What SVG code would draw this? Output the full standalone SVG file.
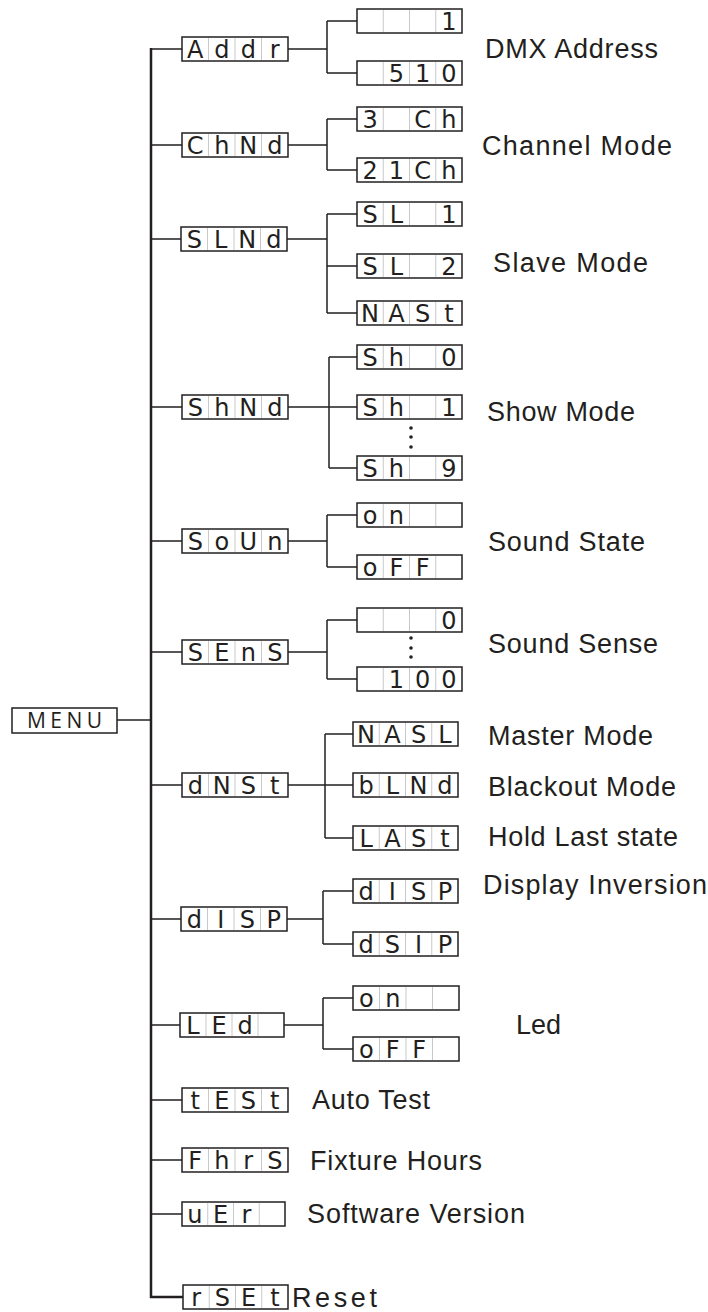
<svg xmlns="http://www.w3.org/2000/svg" width="708" height="1312" viewBox="0 0 708 1312">
<style>
.bg{fill:#ffffff}
.box{fill:#ffffff;stroke:#231f20;stroke-width:1.5}
.div{stroke:#c9c9c9;stroke-width:1}
.seg{font-family:"DejaVu Sans","Liberation Sans",sans-serif;font-size:24px;fill:#231f20;text-anchor:middle}
.lbl{font-family:"Liberation Sans",Arial,sans-serif;font-size:27px;fill:#231f20}
.menu{font-family:"Open Sans","Liberation Sans",sans-serif;font-size:21px;fill:#231f20}
.wire{stroke:#231f20;stroke-width:1.5;fill:none}
.main{stroke:#231f20;stroke-width:2.5;fill:none}
.dot{fill:#231f20}
</style>
<rect class="bg" x="0" y="0" width="708" height="1312"/>

<g id="connectors">
  <path class="main" d="M151 48 V1297 H183"/>
  <path class="wire" d="M117 720 H151"/>
  <path class="wire" d="M151 49 H182 M151 145 H182 M151 239 H181 M151 407 H182 M151 541 H182 M151 652 H182 M151 785 H182 M151 919 H181 M151 1025 H180 M151 1100 H182 M151 1160 H182 M151 1214 H182"/>
  <path class="wire" d="M288 49 H327 M327 21 V73 M327 21 H357 M327 73 H357"/>
  <path class="wire" d="M288 145 H327 M327 119 V170 M327 119 H357 M327 170 H357"/>
  <path class="wire" d="M287 239 H327 M327 214 V313 M327 214 H357 M327 266 H357 M327 313 H357"/>
  <path class="wire" d="M288 407 H329 M329 357 V468 M329 357 H357 M329 407 H357 M329 468 H357"/>
  <path class="wire" d="M288 541 H327 M327 515 V567 M327 515 H357 M327 567 H357"/>
  <path class="wire" d="M288 652 H327 M327 620 V679 M327 620 H357 M327 679 H357"/>
  <path class="wire" d="M288 785 H325 M325 734 V838 M325 734 H353 M325 785 H353 M325 838 H353"/>
  <path class="wire" d="M287 919 H323 M323 891 V944 M323 891 H353 M323 944 H353"/>
  <path class="wire" d="M284 1025 H323 M323 998 V1049 M323 998 H353 M323 1049 H353"/>
  <circle class="dot" cx="411" cy="428" r="1.8"/><circle class="dot" cx="411" cy="437" r="1.8"/><circle class="dot" cx="411" cy="447" r="1.8"/>
  <circle class="dot" cx="411" cy="638" r="1.8"/><circle class="dot" cx="411" cy="648" r="1.8"/><circle class="dot" cx="411" cy="657" r="1.8"/>
</g>

<g id="menu">
  <rect class="box" x="12" y="708" width="105" height="25"/>
  <text class="menu" x="27" y="728" textLength="75" lengthAdjust="spacing">MENU</text>
</g>

<g id="addr">
  <rect class="box" x="182" y="37" width="106" height="24"/>
  <path class="div" d="M208.5 38V60M235 38V60M261.5 38V60"/>
  <text class="seg" x="195.25 221.75 248.25 274.75" y="58">Addr</text>
</g>
<g id="addr-1">
  <rect class="box" x="357" y="9" width="105" height="24"/>
  <path class="div" d="M383.25 10V32M409.5 10V32M435.75 10V32"/>
  <text class="seg" x="448.9" y="30">1</text>
</g>
<g id="addr-510">
  <rect class="box" x="357" y="61" width="105" height="24"/>
  <path class="div" d="M383.25 62V84M409.5 62V84M435.75 62V84"/>
  <text class="seg" x="396.4 422.6 448.9" y="82">510</text>
</g>
<text class="lbl" x="485" y="58" textLength="173" lengthAdjust="spacing">DMX Address</text>

<g id="chnd">
  <rect class="box" x="182" y="133" width="106" height="24"/>
  <path class="div" d="M208.5 134V156M235 134V156M261.5 134V156"/>
  <text class="seg" x="195.25 221.75 248.25 274.75" y="154">ChNd</text>
</g>
<g id="chnd-3ch">
  <rect class="box" x="357" y="107" width="105" height="24"/>
  <path class="div" d="M383.25 108V130M409.5 108V130M435.75 108V130"/>
  <text class="seg" x="370.1 422.6 448.9" y="128">3Ch</text>
</g>
<g id="chnd-21ch">
  <rect class="box" x="357" y="158" width="105" height="24"/>
  <path class="div" d="M383.25 159V181M409.5 159V181M435.75 159V181"/>
  <text class="seg" x="370.1 396.4 422.6 448.9" y="179">21Ch</text>
</g>
<text class="lbl" x="482" y="155" textLength="190" lengthAdjust="spacing">Channel Mode</text>

<g id="slnd">
  <rect class="box" x="181" y="227" width="106" height="24"/>
  <path class="div" d="M207.5 228V250M234 228V250M260.5 228V250"/>
  <text class="seg" x="194.25 220.75 247.25 273.75" y="248">SLNd</text>
</g>
<g id="slnd-sl1">
  <rect class="box" x="357" y="202" width="105" height="24"/>
  <path class="div" d="M383.25 203V225M409.5 203V225M435.75 203V225"/>
  <text class="seg" x="370.1 396.4 448.9" y="223">SL1</text>
</g>
<g id="slnd-sl2">
  <rect class="box" x="357" y="254" width="105" height="24"/>
  <path class="div" d="M383.25 255V277M409.5 255V277M435.75 255V277"/>
  <text class="seg" x="370.1 396.4 448.9" y="275">SL2</text>
</g>
<g id="slnd-nast">
  <rect class="box" x="357" y="301" width="105" height="24"/>
  <path class="div" d="M383.25 302V324M409.5 302V324M435.75 302V324"/>
  <text class="seg" x="370.1 396.4 422.6 448.9" y="322">NASt</text>
</g>
<text class="lbl" x="493" y="272" textLength="155" lengthAdjust="spacing">Slave Mode</text>

<g id="shnd">
  <rect class="box" x="182" y="395" width="106" height="24"/>
  <path class="div" d="M208.5 396V418M235 396V418M261.5 396V418"/>
  <text class="seg" x="195.25 221.75 248.25 274.75" y="416">ShNd</text>
</g>
<g id="shnd-sh0">
  <rect class="box" x="357" y="345" width="105" height="24"/>
  <path class="div" d="M383.25 346V368M409.5 346V368M435.75 346V368"/>
  <text class="seg" x="370.1 396.4 448.9" y="366">Sh0</text>
</g>
<g id="shnd-sh1">
  <rect class="box" x="357" y="395" width="105" height="24"/>
  <path class="div" d="M383.25 396V418M409.5 396V418M435.75 396V418"/>
  <text class="seg" x="370.1 396.4 448.9" y="416">Sh1</text>
</g>
<g id="shnd-sh9">
  <rect class="box" x="357" y="456" width="105" height="24"/>
  <path class="div" d="M383.25 457V479M409.5 457V479M435.75 457V479"/>
  <text class="seg" x="370.1 396.4 448.9" y="477">Sh9</text>
</g>
<text class="lbl" x="487" y="421" textLength="148" lengthAdjust="spacing">Show Mode</text>

<g id="soun">
  <rect class="box" x="182" y="529" width="106" height="24"/>
  <path class="div" d="M208.5 530V552M235 530V552M261.5 530V552"/>
  <text class="seg" x="195.25 221.75 248.25 274.75" y="550">SoUn</text>
</g>
<g id="soun-on">
  <rect class="box" x="357" y="503" width="105" height="24"/>
  <path class="div" d="M383.25 504V526M409.5 504V526M435.75 504V526"/>
  <text class="seg" x="370.1 396.4" y="524">on</text>
</g>
<g id="soun-off">
  <rect class="box" x="357" y="555" width="105" height="24"/>
  <path class="div" d="M383.25 556V578M409.5 556V578M435.75 556V578"/>
  <text class="seg" x="370.1 396.4 422.6" y="576">oFF</text>
</g>
<text class="lbl" x="488" y="551" textLength="157" lengthAdjust="spacing">Sound State</text>

<g id="sens">
  <rect class="box" x="182" y="640" width="106" height="24"/>
  <path class="div" d="M208.5 641V663M235 641V663M261.5 641V663"/>
  <text class="seg" x="195.25 221.75 248.25 274.75" y="661">SEnS</text>
</g>
<g id="sens-0">
  <rect class="box" x="357" y="608" width="105" height="24"/>
  <path class="div" d="M383.25 609V631M409.5 609V631M435.75 609V631"/>
  <text class="seg" x="448.9" y="629">0</text>
</g>
<g id="sens-100">
  <rect class="box" x="357" y="667" width="105" height="24"/>
  <path class="div" d="M383.25 668V690M409.5 668V690M435.75 668V690"/>
  <text class="seg" x="396.4 422.6 448.9" y="688">100</text>
</g>
<text class="lbl" x="488" y="653" textLength="170" lengthAdjust="spacing">Sound Sense</text>

<g id="dnst">
  <rect class="box" x="182" y="773" width="106" height="24"/>
  <path class="div" d="M208.5 774V796M235 774V796M261.5 774V796"/>
  <text class="seg" x="195.25 221.75 248.25 274.75" y="794">dNSt</text>
</g>
<g id="dnst-nasl">
  <rect class="box" x="353" y="722" width="105" height="24"/>
  <path class="div" d="M379.25 723V745M405.5 723V745M431.75 723V745"/>
  <text class="seg" x="366.1 392.4 418.6 444.9" y="743">NASL</text>
</g>
<g id="dnst-blnd">
  <rect class="box" x="353" y="773" width="105" height="24"/>
  <path class="div" d="M379.25 774V796M405.5 774V796M431.75 774V796"/>
  <text class="seg" x="366.1 392.4 418.6 444.9" y="794">bLNd</text>
</g>
<g id="dnst-last">
  <rect class="box" x="353" y="826" width="105" height="24"/>
  <path class="div" d="M379.25 827V849M405.5 827V849M431.75 827V849"/>
  <text class="seg" x="366.1 392.4 418.6 444.9" y="847">LASt</text>
</g>
<text class="lbl" x="488" y="745" textLength="165" lengthAdjust="spacing">Master Mode</text>
<text class="lbl" x="488" y="796" textLength="188" lengthAdjust="spacing">Blackout Mode</text>
<text class="lbl" x="488" y="846" textLength="190" lengthAdjust="spacing">Hold Last state</text>

<g id="disp">
  <rect class="box" x="181" y="907" width="106" height="24"/>
  <path class="div" d="M207.5 908V930M234 908V930M260.5 908V930"/>
  <text class="seg" x="194.25 220.75 247.25 273.75" y="928">dISP</text>
</g>
<g id="disp-disp">
  <rect class="box" x="353" y="879" width="105" height="24"/>
  <path class="div" d="M379.25 880V902M405.5 880V902M431.75 880V902"/>
  <text class="seg" x="366.1 392.4 418.6 444.9" y="900">dISP</text>
</g>
<g id="disp-dsip">
  <rect class="box" x="353" y="932" width="105" height="24"/>
  <path class="div" d="M379.25 933V955M405.5 933V955M431.75 933V955"/>
  <text class="seg" x="366.1 392.4 418.6 444.9" y="953">dSIP</text>
</g>
<text class="lbl" x="483" y="894" textLength="224" lengthAdjust="spacing">Display Inversion</text>

<g id="led">
  <rect class="box" x="180" y="1013" width="104" height="24"/>
  <path class="div" d="M206 1014V1036M232 1014V1036M258 1014V1036"/>
  <text class="seg" x="193 219 245" y="1034">LEd</text>
</g>
<g id="led-on">
  <rect class="box" x="353" y="986" width="106" height="24"/>
  <path class="div" d="M379.5 987V1009M406 987V1009M432.5 987V1009"/>
  <text class="seg" x="366.25 392.75" y="1007">on</text>
</g>
<g id="led-off">
  <rect class="box" x="353" y="1037" width="106" height="24"/>
  <path class="div" d="M379.5 1038V1060M406 1038V1060M432.5 1038V1060"/>
  <text class="seg" x="366.25 392.75 419.25" y="1058">oFF</text>
</g>
<text class="lbl" x="516" y="1034" textLength="45" lengthAdjust="spacing">Led</text>

<g id="test">
  <rect class="box" x="182" y="1088" width="106" height="24"/>
  <path class="div" d="M208.5 1089V1111M235 1089V1111M261.5 1089V1111"/>
  <text class="seg" x="195.25 221.75 248.25 274.75" y="1109">tESt</text>
  <text class="lbl" x="312" y="1109" textLength="118" lengthAdjust="spacing">Auto Test</text>
</g>
<g id="fhrs">
  <rect class="box" x="182" y="1148" width="106" height="24"/>
  <path class="div" d="M208.5 1149V1171M235 1149V1171M261.5 1149V1171"/>
  <text class="seg" x="195.25 221.75 248.25 274.75" y="1169">FhrS</text>
  <text class="lbl" x="310" y="1170" textLength="172" lengthAdjust="spacing">Fixture Hours</text>
</g>
<g id="ver">
  <rect class="box" x="182" y="1202" width="103" height="24"/>
  <path class="div" d="M207.75 1203V1225M233.5 1203V1225M259.25 1203V1225"/>
  <text class="seg" x="194.9 220.6 246.4" y="1223">uEr</text>
  <text class="lbl" x="307" y="1223" textLength="218" lengthAdjust="spacing">Software Version</text>
</g>
<g id="rset">
  <rect class="box" x="183" y="1285" width="105" height="24"/>
  <path class="div" d="M209.25 1286V1308M235.5 1286V1308M261.75 1286V1308"/>
  <text class="seg" x="196.1 222.4 248.6 274.9" y="1306">rSEt</text>
  <text class="lbl" x="292" y="1307" textLength="85" lengthAdjust="spacing">Reset</text>
</g>
</svg>
